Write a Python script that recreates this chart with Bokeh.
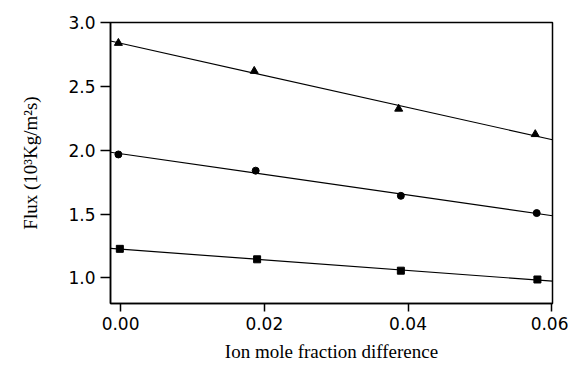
import numpy as np
from bokeh.plotting import figure
from bokeh.models import FixedTicker, NumeralTickFormatter, Range1d
from bokeh.embed import file_html
from bokeh.resources import INLINE

# Data
x_tri = [-0.0003, 0.0186, 0.0387, 0.0577]
y_tri = [2.839, 2.620, 2.324, 2.125]
x_cir = [-0.0003, 0.0188, 0.0390, 0.0579]
y_cir = [1.967, 1.840, 1.643, 1.508]
x_sq = [-0.0001, 0.0190, 0.0390, 0.0580]
y_sq = [1.228, 1.146, 1.057, 0.988]
x_ticks = [0.0, 0.02, 0.04, 0.06]
y_ticks = [1.0, 1.5, 2.0, 2.5, 3.0]

p = figure(width=568, height=364, output_backend="svg", toolbar_location=None,
           x_range=Range1d(-0.0014, 0.0601), y_range=Range1d(0.80, 3.0),
           min_border_left=110, min_border_right=16, min_border_top=22, min_border_bottom=55)

p.grid.visible = False
p.outline_line_color = "black"
p.outline_line_width = 1.5
p.background_fill_color = "white"
p.border_fill_color = "white"

x_fit = np.array([p.x_range.start, p.x_range.end])
for xs, ys in [(x_tri, y_tri), (x_cir, y_cir), (x_sq, y_sq)]:
    m, b = np.polyfit(xs, ys, 1)
    p.line(x_fit, m * x_fit + b, line_color="black", line_width=1.2)

p.scatter(x_tri, y_tri, marker="triangle", size=8, color="black")
p.scatter(x_cir, y_cir, marker="circle", size=7, color="black")
p.scatter(x_sq, y_sq, marker="square", size=7, color="black")

for ax in (p.xaxis[0], p.yaxis[0]):
    ax.axis_line_width = 1.5
    ax.major_tick_line_width = 1.5
    ax.major_tick_in = 0
    ax.minor_tick_line_color = None
    ax.major_label_text_font = "DejaVu Sans"
    ax.major_label_text_font_size = "17px"
    ax.major_label_text_color = "black"
    ax.axis_label_text_font = "Liberation Serif"
    ax.axis_label_text_font_size = "19px"
    ax.axis_label_text_font_style = "normal"
    ax.axis_label_text_color = "black"

p.xaxis.major_tick_out = 8
p.yaxis.major_tick_out = 10
p.xaxis.ticker = FixedTicker(ticks=x_ticks)
p.xaxis.formatter = NumeralTickFormatter(format="0.00")
p.yaxis.ticker = FixedTicker(ticks=y_ticks)
p.yaxis.formatter = NumeralTickFormatter(format="0.0")
p.xaxis.axis_label = "Ion mole fraction difference"
p.yaxis.axis_label = "Flux (10³Kg/m²s)"
p.xaxis.major_label_standoff = 5
p.yaxis.major_label_standoff = 5
p.xaxis.axis_label_standoff = 8
p.yaxis.axis_label_standoff = 24

open("out.html", "w").write(file_html(p, INLINE))
